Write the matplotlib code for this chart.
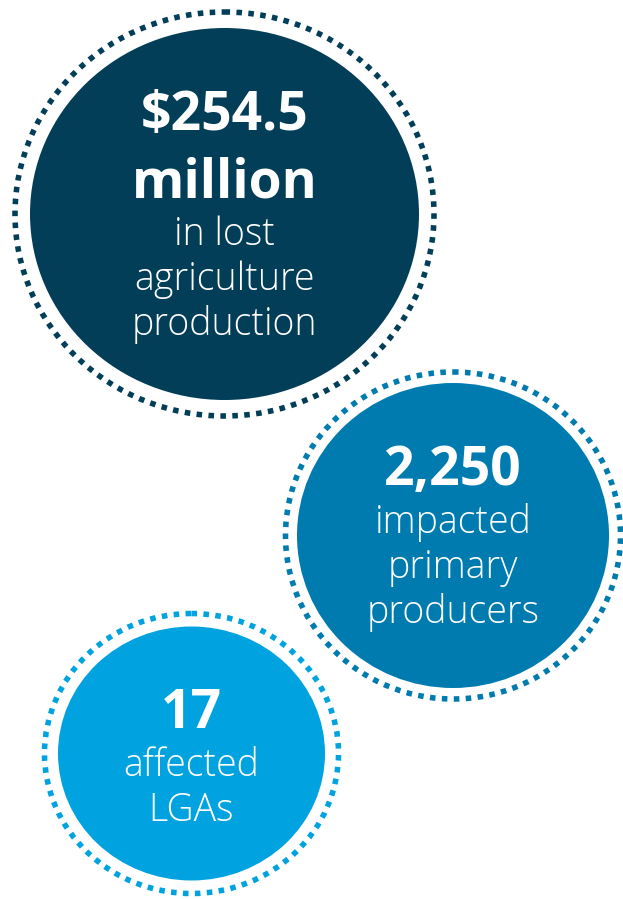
"""Key impact figures drawn as dotted-ring bubbles."""

import matplotlib.pyplot as plt
from matplotlib.patches import Ellipse

# headline figures and their captions
HEADLINES = [["$254.5", "million"], ["2,250"], ["17"]]
CAPTIONS = [
    ["in lost", "agriculture", "production"],
    ["impacted", "primary", "producers"],
    ["affected", "LGAs"],
]
COLORS = ["#023E58", "#007BB0", "#00A3DF"]

# bubble layout in pixel units: centre, fill radii, ring radii
CENTERS = [(224.5, 214), (453, 535.5), (191.5, 753.5)]
FILL_RADII = [(194.5, 186), (156, 152.5), (133.5, 127)]
RING_RADII = [(209.5, 202), (167.5, 163.5), (147, 140)]
FIRST_BASELINE = [130, 485, 728]

BOLD_STEP = 67
BOLD_TO_LIGHT = 48
LIGHT_STEP = 45


def setup_plt() -> None:
    """Configure matplotlib text defaults."""
    plt.rcParams["font.family"] = ["Open Sans", "DejaVu Sans"]


def draw_bubble(ax, idx: int) -> None:
    """Draw one filled bubble with its dotted outer ring and text."""
    cx, cy = CENTERS[idx]
    fw, fh = FILL_RADII[idx]
    rw, rh = RING_RADII[idx]
    color = COLORS[idx]

    ax.add_patch(Ellipse((cx, cy), 2 * fw, 2 * fh, facecolor=color, edgecolor="none"))
    ring = Ellipse((cx, cy), 2 * rw, 2 * rh, facecolor="none", edgecolor=color,
                   linewidth=4.0)
    ring.set_linestyle((0, (1.0, 1.15)))
    ring.set_capstyle("butt")
    ax.add_patch(ring)

    y = FIRST_BASELINE[idx]
    for i, line in enumerate(HEADLINES[idx]):
        if i:
            y += BOLD_STEP
        ax.text(cx, y, line, ha="center", va="baseline", color="white",
                fontsize=38.5, fontweight="bold")
    y += BOLD_TO_LIGHT
    for i, line in enumerate(CAPTIONS[idx]):
        if i:
            y += LIGHT_STEP
        ax.text(cx, y, line, ha="center", va="baseline", color="white",
                fontsize=27, fontweight="light")


def main() -> None:
    """Plot the impact bubbles."""
    setup_plt()
    fig = plt.figure(figsize=(6.23, 8.99), dpi=100)
    ax = fig.add_axes([0, 0, 1, 1])
    ax.set_xlim(0, 623)
    ax.set_ylim(899, 0)
    ax.axis("off")

    for idx in range(len(HEADLINES)):
        draw_bubble(ax, idx)

    plt.savefig("out.png", dpi=100, facecolor="white")


if __name__ == "__main__":
    main()
